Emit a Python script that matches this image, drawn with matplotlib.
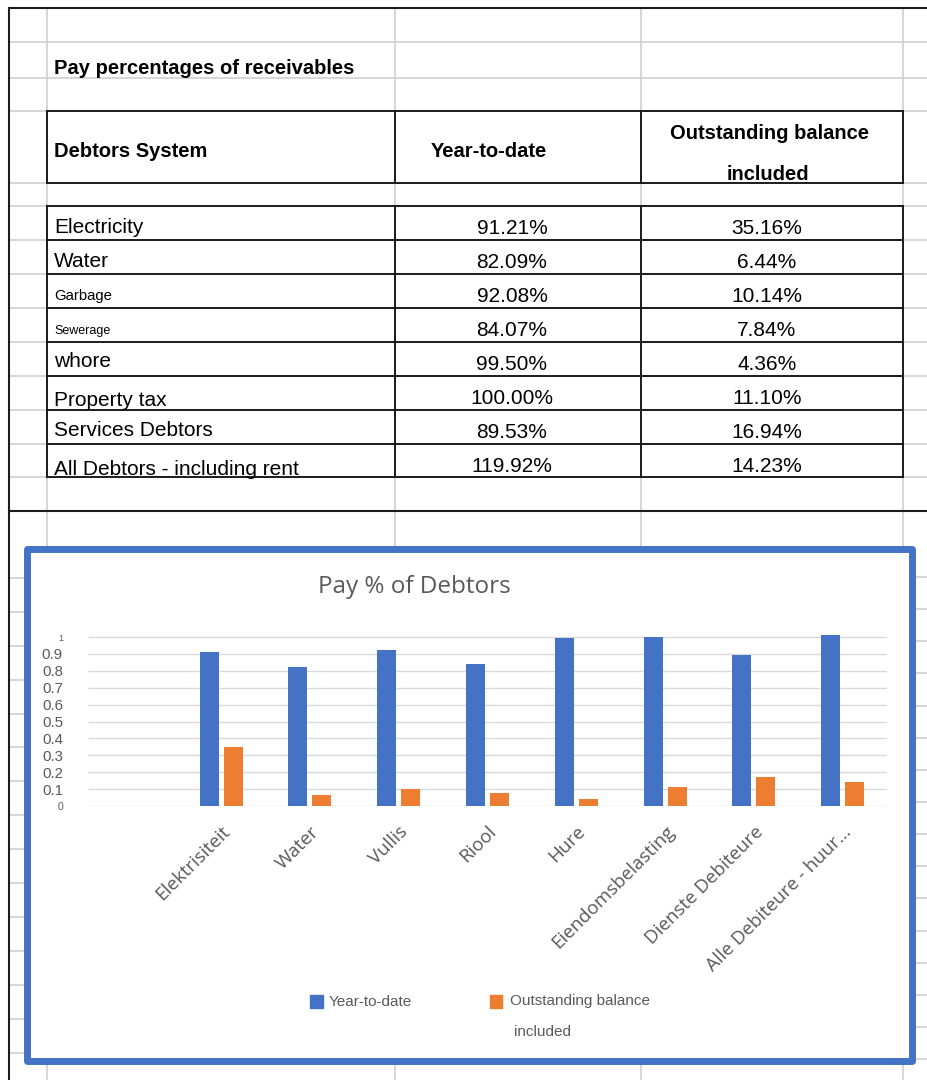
"""
Pay percentages of receivables - spreadsheet table + bar chart
"""
import numpy as np
import matplotlib
matplotlib.use('Agg')
import matplotlib.pyplot as plt
from matplotlib.patches import Rectangle

# ---- data ----
sheet_title = 'Pay percentages of receivables'
col_headers = ['Debtors System', 'Year-to-date', 'Outstanding balance', 'included']
row_labels = ['Electricity', 'Water', 'Garbage', 'Sewerage', 'whore',
              'Property tax', 'Services Debtors', 'All Debtors - including rent']
year_to_date = [0.9121, 0.8209, 0.9208, 0.8407, 0.9950, 1.0000, 0.8953, 1.1992]
outstanding = [0.3516, 0.0644, 0.1014, 0.0784, 0.0436, 0.1110, 0.1694, 0.1423]

chart_title = 'Pay % of Debtors'
# first slot of the chart is empty in the workbook
chart_categories = ['', 'Elektrisiteit', 'Water', 'Vullis', 'Riool', 'Hure',
                    'Eiendomsbelasting', 'Dienste Debiteure', 'Alle Debiteure - huur...']
series_names = ['Year-to-date', 'Outstanding balance', 'included']
y_ticks = [0, 0.1, 0.2, 0.3, 0.4, 0.5, 0.6, 0.7, 0.8, 0.9, 1]
y_tick_labels = ['0', '0.1', '0.2', '0.3', '0.4', '0.5', '0.6', '0.7', '0.8', '0.9', '1']

# ---- styling ----
W, H = 927, 1080
BLUE = '#4472C4'
ORANGE = '#ED7D31'
LIGHT = '#d3d3d3'
DARK = '#1c1c1c'
GREY_TXT = '#595959'
ARIAL = ['Liberation Sans', 'DejaVu Sans']
SEGOE = ['Open Sans', 'DejaVu Sans']

label_sizes = [15, 15, 10.7, 9, 15, 15, 15, 15]
label_base = [27, 27, 26, 26, 25, 29.5, 26, 31]   # baseline offset inside each row
row_tops = [206, 240, 274, 308, 342, 376, 410, 444, 477]


def draw_sheet(bg):
    """Gridlines, table and frame of the worksheet"""
    # light cell gridlines
    for x in [47, 395, 641, 903]:
        bg.plot([x, x], [8, H], color=LIGHT, lw=1.3, zorder=1)
    for y in [42, 78, 111, 183] + row_tops:
        bg.plot([9, W], [y, y], color=LIGHT, lw=1.3, zorder=1)
    for y in np.arange(578, H, 33.9):
        bg.plot([9, 30], [y, y], color=LIGHT, lw=1.3, zorder=1)
    for y in np.arange(577, H, 32.14):
        bg.plot([905, W], [y, y], color=LIGHT, lw=1.3, zorder=1)

    # dark sheet borders
    bg.plot([9, W], [8, 8], color=DARK, lw=1.5, zorder=2)
    bg.plot([9, 9], [8, H], color=DARK, lw=1.5, zorder=2)
    bg.plot([9, W], [511, 511], color=DARK, lw=1.5, zorder=2)

    # table header box
    for y in [111, 183]:
        bg.plot([47, 903], [y, y], color=DARK, lw=1.4, zorder=2)
    for x in [47, 395, 641, 903]:
        bg.plot([x, x], [111, 183], color=DARK, lw=1.4, zorder=2)
    # table body
    for y in row_tops:
        bg.plot([47, 903], [y, y], color=DARK, lw=1.4, zorder=2)
    for x in [47, 395, 641, 903]:
        bg.plot([x, x], [206, 477], color=DARK, lw=1.4, zorder=2)

    bg.text(54, 74, sheet_title, fontsize=14.5, fontweight='bold', family=ARIAL)
    bg.text(54, 157, col_headers[0], fontsize=14.5, fontweight='bold', family=ARIAL)
    bg.text(489, 157, col_headers[1], fontsize=14.5, fontweight='bold',
            family=ARIAL, ha='center')
    bg.text(770, 139, col_headers[2], fontsize=14.5, fontweight='bold',
            family=ARIAL, ha='center')
    bg.text(768, 180, col_headers[3], fontsize=14.5, fontweight='bold',
            family=ARIAL, ha='center')

    for i, name in enumerate(row_labels):
        top = row_tops[i]
        bg.text(54, top + label_base[i], name, fontsize=label_sizes[i], family=ARIAL)
        bg.text(512, top + 27.5, f'{year_to_date[i]*100:.2f}%', fontsize=15,
                family=ARIAL, ha='center')
        bg.text(767, top + 27.5, f'{outstanding[i]*100:.2f}%', fontsize=15,
                family=ARIAL, ha='center')


def draw_chart(fig, bg):
    """Excel style clustered column chart"""
    bg.add_patch(Rectangle((27, 548.5), 885, 512.5, facecolor='white',
                           edgecolor=BLUE, lw=5, joinstyle='round', zorder=3))
    bg.text(414, 587, chart_title, fontsize=17.5, family=SEGOE, color=GREY_TXT,
            ha='center', va='center', zorder=4)

    ax = fig.add_axes([88 / W, (H - 806) / H, 799 / W, 171 / H], zorder=5)
    ax.patch.set_alpha(0)
    x = np.arange(1, len(chart_categories))
    ax.hlines(y_ticks, -0.5, len(chart_categories) - 0.5, color='#d9d9d9',
              lw=1, zorder=0)
    ax.bar(x - 0.135, year_to_date, width=0.214, color=BLUE, zorder=2)
    ax.bar(x + 0.135, outstanding, width=0.214, color=ORANGE, zorder=2)
    ax.set_xlim(-0.5, len(chart_categories) - 0.5)
    ax.set_ylim(0, 1.012)
    for s in ax.spines.values():
        s.set_visible(False)

    ax.set_yticks(y_ticks)
    ax.set_yticklabels(y_tick_labels, family=ARIAL, color=GREY_TXT)
    for t in ax.get_yticklabels():
        if t.get_text() == '1':
            t.set_fontsize(6.5)
        elif t.get_text() == '0':
            t.set_fontsize(7.5)
        else:
            t.set_fontsize(10.8)
    ax.tick_params(axis='y', length=0, pad=18)

    ax.set_xticks(np.arange(len(chart_categories)))
    ax.set_xticklabels(chart_categories, rotation=45, ha='right',
                       rotation_mode='anchor', fontsize=13.5, family=SEGOE,
                       color=GREY_TXT)
    ax.tick_params(axis='x', length=0, pad=12)

    # legend
    bg.add_patch(Rectangle((310, 995), 13, 13, color=BLUE, zorder=4))
    bg.text(329, 1002, series_names[0], fontsize=11, family=ARIAL,
            color=GREY_TXT, va='center', zorder=4)
    bg.add_patch(Rectangle((490, 995), 12, 13, color=ORANGE, zorder=4))
    bg.text(510, 1001, series_names[1], fontsize=11, family=ARIAL,
            color=GREY_TXT, va='center', zorder=4)
    bg.text(514, 1032, series_names[2], fontsize=11, family=ARIAL,
            color=GREY_TXT, va='center', zorder=4)


def main():
    fig = plt.figure(figsize=(W / 100, H / 100), dpi=100)
    bg = fig.add_axes([0, 0, 1, 1])
    bg.set_xlim(0, W)
    bg.set_ylim(H, 0)
    bg.axis('off')

    draw_sheet(bg)
    draw_chart(fig, bg)

    fig.savefig('out.png', dpi=100, facecolor='white')
    print('Saved: out.png')


if __name__ == '__main__':
    main()
